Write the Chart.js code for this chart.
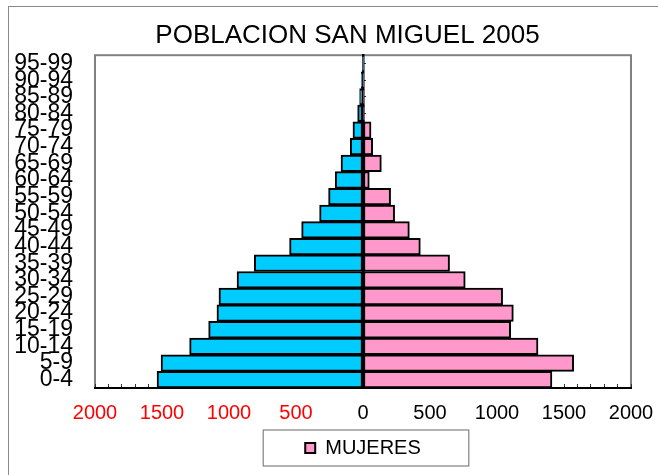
<!DOCTYPE html>
<html>
<head>
<meta charset="utf-8">
<script src="https://cdn.jsdelivr.net/npm/chart.js@4"></script>
<style>
  html, body { margin: 0; padding: 0; background: #fff; }
  #wrap { position: relative; width: 658px; height: 475px; overflow: hidden; }
  #frame { position: absolute; left: 8px; top: 6px; width: 700px; height: 520px;
           border-left: 1.5px solid #8a8a8a; border-top: 1.5px solid #8a8a8a; box-sizing: border-box; }
  canvas { position: absolute; left: 0; top: 0; }
</style>
</head>
<body>
<div id="wrap">
  <div id="frame"></div>
  <canvas id="c" width="658" height="475"></canvas>
</div>
<script>
// ---- data ----
const categories = ['0-4','5-9','10-14','15-19','20-24','25-29','30-34','35-39','40-44','45-49',
                    '50-54','55-59','60-64','65-69','70-74','75-79','80-84','85-89','90-94','95-99'];
const hombres = [1537, 1507, 1294, 1152, 1090, 1075, 940, 811, 548, 458,
                 324, 257, 207, 164, 95, 75, 40, 25, 13, 5];
const mujeres = [1410, 1572, 1306, 1102, 1122, 1042, 763, 646, 428, 346,
                 236, 206, 47, 137, 72, 60, 10, 8, 5, 3];
const xMin = -2000, xMax = 2000, xStep = 100, labelStep = 500;
const title = 'POBLACION SAN MIGUEL 2005';

const FONT = "'Liberation Sans', Arial, sans-serif";
const LABEL_GAP = 22; // px between age labels and plot frame

const framePlugin = {
  id: 'framePlugin',
  beforeDraw(chart) {
    const {ctx, chartArea: a} = chart;
    ctx.save();
    ctx.strokeStyle = '#808080';
    ctx.lineWidth = 2;
    ctx.strokeRect(a.left, a.top, a.right - a.left, a.bottom - a.top);
    // legend border box
    const lg = chart.legend;
    if (lg && lg.legendHitBoxes && lg.legendHitBoxes.length) {
      const hb = lg.legendHitBoxes[0];
      const l = hb.left - 42, r = hb.left + hb.width + 48;
      const t = hb.top - 8, b = hb.top + hb.height + 8;
      ctx.fillStyle = '#fff';
      ctx.fillRect(l, t, r - l, b - t);
      ctx.strokeStyle = '#808080';
      ctx.lineWidth = 1.2;
      ctx.strokeRect(l, t, r - l, b - t);
    }
    ctx.restore();
  }
};

const chart = new Chart(document.getElementById('c'), {
  type: 'bar',
  data: {
    labels: categories,
    datasets: [
      { label: 'HOMBRES', data: hombres.map(v => -v), backgroundColor: '#00CCFF',
        borderColor: '#000', borderWidth: 2, borderSkipped: false },
      { label: 'MUJERES', data: mujeres, backgroundColor: '#FF99CC',
        borderColor: '#000', borderWidth: 2, borderSkipped: false }
    ]
  },
  options: {
    indexAxis: 'y',
    responsive: false,
    animation: false,
    layout: { padding: { left: 64, right: 27, top: 0, bottom: 7 } },
    datasets: { bar: { barPercentage: 1, categoryPercentage: 1 } },
    plugins: {
      tooltip: { enabled: false },
      title: {
        display: true, text: title, color: '#000',
        font: { family: FONT, size: 26, weight: 'normal' },
        padding: { top: 20, bottom: 4 }
      },
      legend: {
        position: 'bottom',
        fullSize: false,
        labels: {
          filter: (item) => item.datasetIndex === 1,
          color: '#000',
          font: { family: FONT, size: 20 },
          boxWidth: 10, boxHeight: 10, padding: 13
        }
      }
    },
    scales: {
      x: {
        type: 'linear', stacked: true, min: xMin, max: xMax,
        grid: { drawOnChartArea: false, drawTicks: true, tickLength: -4, color: '#333', lineWidth: 1 },
        border: { display: true, color: '#000', width: 2 },
        ticks: {
          stepSize: xStep, autoSkip: false, maxRotation: 0, padding: 17,
          font: { family: FONT, size: 20 },
          color: (ctx) => (ctx.tick && ctx.tick.value < 0) ? '#FF0000' : '#000',
          callback: (v) => (v % labelStep === 0) ? String(Math.abs(v)) : ''
        },
        afterFit: (s) => { s.height = 37; s.paddingLeft = 0; s.paddingRight = 0; }
      },
      y: {
        type: 'category', stacked: true, reverse: true, offset: true,
        position: { x: xMin },
        grid: { display: false, drawTicks: false },
        border: { display: false },
        ticks: { color: '#000', autoSkip: false, font: { family: FONT, size: 23 } },
        afterFit: (s) => { s.paddingTop = 0; s.paddingBottom = 0; }
      },
      y2: {
        type: 'category', axis: 'y', reverse: true, offset: true,
        position: { x: 0 },
        grid: { drawOnChartArea: false, offset: false, drawTicks: true, tickLength: -4, color: '#333', lineWidth: 1 },
        border: { display: true, color: '#000', width: 2.5 },
        ticks: { display: false }
      },
      yPad: {
        type: 'linear', axis: 'y', position: 'left', min: 0, max: 1,
        grid: { display: false, drawTicks: false },
        border: { display: false },
        ticks: { display: false },
        afterFit: (s) => { s.width = 31; s.paddingTop = 0; s.paddingBottom = 0; }
      }
    }
  },
  plugins: [framePlugin]
});

// shift the age-label axis left of the plot frame by LABEL_GAP pixels (in x-scale units)
const xs = chart.scales.x;
const unitsPerPx = (xs.max - xs.min) / (xs.right - xs.left);
chart.options.scales.y.position = { x: xMin - LABEL_GAP * unitsPerPx };
chart.update('none');
</script>
</body>
</html>
